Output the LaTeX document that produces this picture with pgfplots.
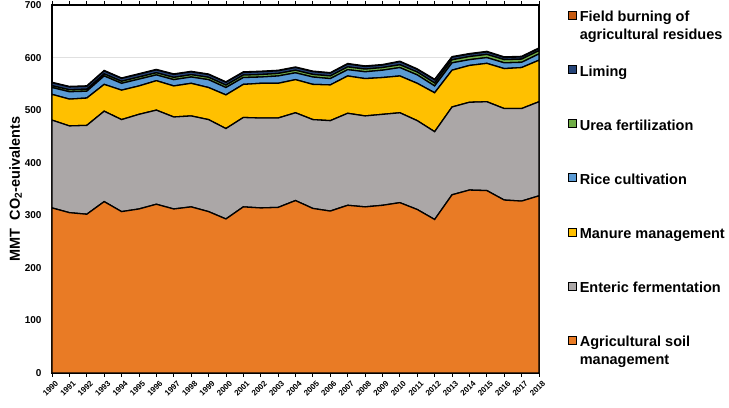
\documentclass[border=0pt]{standalone}
\usepackage{pgfplots}
\usepackage{pgfplotstable}
\pgfplotsset{compat=1.18}
\usepackage{fontspec}
\setmainfont{Liberation Sans}
\definecolor{cSoil}{HTML}{E97B25}
\definecolor{cEnt}{HTML}{ABA7A7}
\definecolor{cMan}{HTML}{FFC000}
\definecolor{cRice}{HTML}{5B9BD5}
\definecolor{cUrea}{HTML}{70AD47}
\definecolor{cLime}{HTML}{264478}
\definecolor{cBurn}{HTML}{C55A11}
\newcommand{\twoline}[2]{\smash{\parbox[t]{6cm}{\raggedright #1\\#2}}}
\pgfplotstableread{
year soil ent man rice urea lime burn
1990 314 167 49 13 3.4 5.7 0.9
1991 305 165 51 14 3.7 5.5 0.9
1992 302 169 52 13 3.8 5.5 0.9
1993 326 172 51 16 3.9 5.6 1.0
1994 307 175 56 13 3.9 5.4 0.9
1995 312 180 54 13 4.0 5.3 1.0
1996 321 179 56 11 4.1 5.4 1.0
1997 312 175 59 12 4.3 5.6 1.0
1998 316 173 62 12 4.4 5.4 1.0
1999 307 175 61 15 4.5 5.2 1.0
2000 293 172 64 14 4.6 5.3 1.0
2001 316 170 63 13 4.7 5.1 1.0
2002 314 171 66 12 4.7 5.3 1.0
2003 315 170 66 14 4.8 5.0 1.0
2004 328 167 63 13 4.9 5.2 1.0
2005 313 169 67 14 4.9 5.3 1.0
2006 308 172 68 12 5.1 5.2 1.0
2007 319 175 71 12 5.2 5.5 1.0
2008 316 173 71 13 5.1 4.9 1.1
2009 319 173 70 14 5.0 4.7 1.0
2010 324 171 70 16 5.3 5.8 1.0
2011 311 169 71 16 5.5 4.9 1.1
2012 292 167 74 13 5.6 6.0 1.1
2013 339 167 70 14 5.8 4.9 1.1
2014 348 167 70 11 5.9 4.6 1.1
2015 347 169 73 11 6.0 4.7 1.1
2016 329 174 76 11 6.1 4.1 1.1
2017 327 176 78 10 6.1 4.1 1.1
2018 337 179 79 12 6.2 4.1 1.1
}\data
\begin{document}
\begin{tikzpicture}
\begin{axis}[
  name=ax,
  scale only axis, width=487pt, height=368pt,
  xmin=1990, xmax=2018, ymin=0, ymax=700,
  stack plots=y,
  xtick={1990,1991,...,2018},
  ytick={0,100,...,700},
  /pgf/number format/1000 sep={},
  /pgf/number format/assume math mode=true,
  ticklabel style={font=\bfseries\fontsize{10}{12}\selectfont},
  yticklabel style={xshift=-3pt},
  xticklabel style={rotate=45, anchor=north east, font=\bfseries\fontsize{8}{9}\selectfont, inner sep=1pt, yshift=-3pt, xshift=1pt},
  xtick style={black, line width=0.8pt},
  tick align=outside, major tick length=4pt,
  ytick style={draw=none},
  ymajorgrids, grid style={black!12, line width=0.6pt},
  axis line style={line width=1.3pt},
  ylabel={MMT\ \ CO\textsubscript{2}-euivalents},
  ylabel style={font=\bfseries\fontsize{14.5}{16}\selectfont, yshift=-4pt},
  reverse legend,
  legend cell align=left,
  legend image code/.code={\draw[#1, draw=black, line width=0.6pt] (0pt,-1pt) rectangle (8pt,7pt);},
  legend style={at={(1,1)}, anchor=north west, xshift=29pt, yshift=-6pt,
    draw=none, fill=none, inner sep=0pt, row sep=40.3pt, column sep=3pt,
    font=\bfseries\fontsize{14.5}{18}\selectfont,
    nodes={text height=10pt, text depth=3pt, inner sep=0pt}},
  every axis plot/.append style={draw=black, line width=1.3pt},
]
\addplot[fill=cSoil] table[x=year,y=soil]{\data} \closedcycle;
\addlegendentry{\twoline{Agricultural soil}{management}}
\addplot[fill=cEnt] table[x=year,y=ent]{\data} \closedcycle;
\addlegendentry{Enteric fermentation}
\addplot[fill=cMan] table[x=year,y=man]{\data} \closedcycle;
\addlegendentry{Manure management}
\addplot[fill=cRice] table[x=year,y=rice]{\data} \closedcycle;
\addlegendentry{Rice cultivation}
\addplot[fill=cUrea] table[x=year,y=urea]{\data} \closedcycle;
\addlegendentry{Urea fertilization}
\addplot[fill=cLime] table[x=year,y=lime]{\data} \closedcycle;
\addlegendentry{Liming}
\addplot[fill=cBurn] table[x=year,y=burn]{\data} \closedcycle;
\addlegendentry{\twoline{Field burning of}{agricultural residues}}
\end{axis}
\pgfresetboundingbox
\path ([shift={(-52pt,-35pt)}]ax.south west) rectangle ([shift={(190pt,5pt)}]ax.north east);
\end{tikzpicture}
\end{document}
